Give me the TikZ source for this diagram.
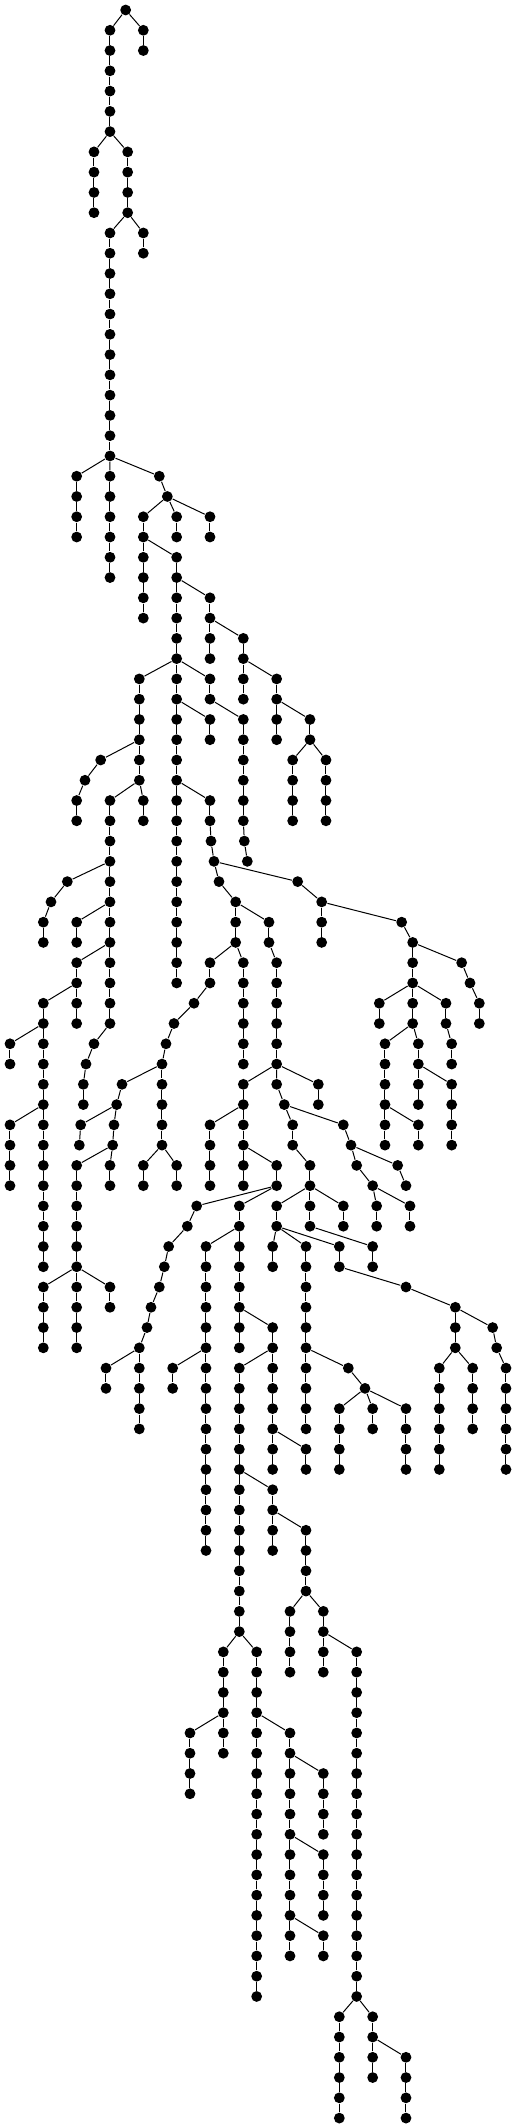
\documentclass[tikz,border=0pt]{standalone}
\usepackage{tikz}
% column, first level, last level
\newcommand\vchain[3]{%
  \foreach \l in {#2,...,#3}{\node[dot] (n\l-#1) at (#1,\l) {};}
  \foreach \l [remember=\l as \p (initially #2)] in {#2,...,#3}{\ifnum\l>#2 \draw (n\p-#1) -- (n\l-#1);\fi}}
\newcommand\dotat[2]{\node[dot] (n#2-#1) at (#1,#2) {};}

\begin{document}
\begin{tikzpicture}[
		x=0.33333pt, y=-20.27pt, line width=1pt,
		dot/.style={circle,fill=black,inner sep=0pt,minimum size=10.8pt}
		]
		\path[use as bounding box] (0pt,10pt) rectangle (516pt,-2118pt);
		% top part
		\dotat{377}{0}
		\vchain{330}{1}{6}
		\vchain{430}{1}{2}
		\vchain{282}{7}{10}
		\vchain{383}{7}{10}
		\vchain{330}{11}{22}
		\vchain{430}{11}{12}
		\vchain{230}{23}{26}
		\vchain{330}{23}{28}
		\dotat{478}{23}
		\dotat{502}{24}
		\vchain{430}{25}{30}
		\vchain{530}{25}{26}
		\vchain{630}{25}{26}
		\vchain{530}{27}{48}
		\vchain{630}{29}{32}
		\vchain{730}{31}{34}
		\vchain{830}{33}{36}
		\vchain{418}{33}{38}
		\vchain{630}{33}{34}
		\vchain{630}{35}{36}
		\vchain{730}{35}{40}
		\dotat{733}{41}
		\dotat{742}{42}
		\vchain{930}{35}{36}
		\vchain{878}{37}{40}
		\vchain{978}{37}{40}
		\dotat{302}{37}
		\dotat{255}{38}
		\vchain{230}{39}{40}
		\vchain{430}{39}{40}
		\vchain{330}{39}{50}
		\vchain{630}{39}{40}
		\dotat{633}{41}
		\dotat{642}{42}
		% middle part
		\dotat{202}{43}
		\dotat{153}{44}
		\vchain{130}{45}{46}
		\vchain{230}{45}{46}
		\vchain{230}{47}{50}
		\vchain{130}{49}{62}
		\vchain{30}{51}{52}
		\vchain{30}{55}{58}
		\dotat{282}{51}
		\dotat{258}{52}
		\vchain{250}{53}{54}
		\dotat{657}{43}
		\vchain{707}{44}{46}
		\vchain{807}{45}{46}
		\vchain{830}{47}{52}
		\vchain{630}{47}{48}
		\dotat{582}{49}
		\dotat{522}{50}
		\dotat{498}{51}
		\vchain{486}{52}{56}
		\vchain{730}{47}{52}
		\dotat{893}{43}
		\vchain{965}{44}{46}
		\dotat{1205}{45}
		\vchain{1238}{46}{50}
		\dotat{1385}{47}
		\dotat{1410}{48}
		\vchain{1438}{49}{50}
		\vchain{1138}{49}{50}
		\vchain{1338}{49}{50}
		\vchain{1355}{51}{52}
		\vchain{1155}{51}{56}
		\vchain{1255}{51}{54}
		\vchain{1355}{53}{56}
		\vchain{1255}{55}{56}
		\dotat{366}{53}
		\dotat{350}{54}
		\dotat{242}{55}
		\dotat{238}{56}
		\dotat{342}{55}
		\dotat{338}{56}
		\vchain{330}{57}{58}
		\vchain{230}{57}{66}
		\vchain{130}{63}{66}
		\vchain{330}{63}{64}
		\vchain{430}{57}{58}
		\vchain{530}{57}{58}
		\vchain{730}{53}{58}
		\vchain{630}{55}{58}
		\vchain{830}{57}{58}
		\vchain{955}{53}{54}
		\dotat{830}{53}
		\dotat{853}{54}
		\vchain{878}{55}{56}
		\vchain{930}{57}{60}
		\dotat{1030}{55}
		\dotat{1053}{56}
		\dotat{1070}{57}
		\dotat{1118}{58}
		\dotat{1193}{57}
		\dotat{1218}{58}
		\vchain{1130}{59}{60}
		\vchain{1230}{59}{60}
		\vchain{830}{59}{60}
		\vchain{1030}{59}{60}
		% lower part
		\dotat{590}{59}
		\dotat{562}{60}
		\dotat{506}{61}
		\dotat{493}{62}
		\dotat{478}{63}
		\dotat{453}{64}
		\dotat{441}{65}
		\vchain{418}{66}{70}
		\vchain{318}{67}{68}
		\vchain{718}{59}{66}
		\vchain{618}{61}{76}
		\vchain{518}{67}{68}
		\vchain{818}{65}{72}
		\vchain{718}{67}{80}
		\vchain{918}{71}{72}
		\vchain{818}{73}{76}
		\vchain{918}{75}{78}
		\vchain{870}{79}{82}
		\vchain{970}{79}{82}
		\vchain{1070}{81}{98}
		\vchain{1018}{99}{104}
		\vchain{1118}{99}{102}
		\vchain{1218}{101}{104}
		\vchain{670}{81}{86}
		\vchain{570}{85}{88}
		\vchain{770}{81}{98}
		\vchain{870}{85}{96}
		\vchain{970}{87}{90}
		\vchain{970}{91}{94}
		\vchain{970}{95}{96}
		\vchain{818}{61}{62}
		\vchain{918}{61}{70}
		\dotat{1045}{67}
		\dotat{1095}{68}
		\vchain{1018}{69}{72}
		\vchain{1118}{69}{70}
		\vchain{1218}{69}{72}
		\vchain{1018}{61}{62}
		\dotat{1218}{63}
		\vchain{1366}{64}{66}
		\dotat{1478}{65}
		\dotat{1490}{66}
		\vchain{1318}{67}{72}
		\vchain{1418}{67}{70}
		\vchain{1518}{67}{72}
		\vchain{1118}{61}{62}
		% branches
		\draw (n0-377) -- (n1-330) (n0-377) -- (n1-430);
		\draw (n6-330) -- (n7-282) (n6-330) -- (n7-383);
		\draw (n10-383) -- (n11-330) (n10-383) -- (n11-430);
		\draw (n22-330) -- (n23-230) (n22-330) -- (n23-330) (n22-330) -- (n23-478);
		\draw (n23-478) -- (n24-502);
		\draw (n24-502) -- (n25-430) (n24-502) -- (n25-530) (n24-502) -- (n25-630);
		\draw (n26-430) -- (n27-530);
		\draw (n28-530) -- (n29-630);
		\draw (n30-630) -- (n31-730);
		\draw (n32-530) -- (n33-418) (n32-530) -- (n33-630);
		\draw (n32-730) -- (n33-830);
		\draw (n34-530) -- (n35-630);
		\draw (n34-630) -- (n35-730);
		\draw (n34-830) -- (n35-930);
		\draw (n36-418) -- (n37-302) -- (n38-255) -- (n39-230);
		\draw (n36-930) -- (n37-878) (n36-930) -- (n37-978);
		\draw (n38-418) -- (n39-330) (n38-418) -- (n39-430);
		\draw (n38-530) -- (n39-630);
		\draw (n40-730) -- (n41-733) -- (n42-742);
		\draw (n40-630) -- (n41-633) -- (n42-642);
		\draw (n42-642) -- (n43-657) (n42-642) -- (n43-893);
		\draw (n42-330) -- (n43-202) -- (n44-153) -- (n45-130);
		\draw (n44-330) -- (n45-230);
		\draw (n46-330) -- (n47-230);
		\draw (n48-230) -- (n49-130);
		\draw (n50-130) -- (n51-30);
		\draw (n54-130) -- (n55-30);
		\draw (n50-330) -- (n51-282) -- (n52-258) -- (n53-250);
		\draw (n43-657) -- (n44-707);
		\draw (n44-707) -- (n45-807);
		\draw (n46-707) -- (n47-630) (n46-707) -- (n47-730);
		\draw (n46-807) -- (n47-830);
		\draw (n48-630) -- (n49-582) -- (n50-522) -- (n51-498) -- (n52-486);
		\draw (n43-893) -- (n44-965);
		\draw (n44-965) -- (n45-1205) -- (n46-1238);
		\draw (n46-1238) -- (n47-1385) -- (n48-1410) -- (n49-1438);
		\draw (n48-1238) -- (n49-1138) (n48-1238) -- (n49-1338);
		\draw (n50-1238) -- (n51-1155) (n50-1238) -- (n51-1255);
		\draw (n50-1338) -- (n51-1355);
		\draw (n52-1255) -- (n53-1355);
		\draw (n54-1155) -- (n55-1255);
		\draw (n52-486) -- (n53-366) -- (n54-350);
		\draw (n54-350) -- (n55-242) -- (n56-238);
		\draw (n54-350) -- (n55-342) -- (n56-338);
		\draw (n56-338) -- (n57-230) (n56-338) -- (n57-330);
		\draw (n62-230) -- (n63-130) (n62-230) -- (n63-330);
		\draw (n56-486) -- (n57-430) (n56-486) -- (n57-530);
		\draw (n52-830) -- (n53-730) (n52-830) -- (n53-830) (n52-830) -- (n53-955);
		\draw (n53-830) -- (n54-853);
		\draw (n54-853) -- (n55-878) (n54-853) -- (n55-1030);
		\draw (n56-878) -- (n57-930);
		\draw (n54-730) -- (n55-630);
		\draw (n56-730) -- (n57-830);
		\draw (n58-830) -- (n59-590) (n58-830) -- (n59-718);
		\draw (n58-930) -- (n59-830) (n58-930) -- (n59-1030);
		\draw (n55-1030) -- (n56-1053);
		\draw (n56-1053) -- (n57-1070) -- (n58-1118);
		\draw (n56-1053) -- (n57-1193) -- (n58-1218);
		\draw (n58-1118) -- (n59-1130) (n58-1118) -- (n59-1230);
		\draw (n60-830) -- (n61-818) (n60-830) -- (n61-918) (n60-830) -- (n61-1018);
		\draw (n60-930) -- (n61-1118);
		\draw (n59-590) -- (n60-562) -- (n61-506) -- (n62-493) -- (n63-478) -- (n64-453) -- (n65-441) -- (n66-418);
		\draw (n66-418) -- (n67-318);
		\draw (n60-718) -- (n61-618);
		\draw (n64-718) -- (n65-818);
		\draw (n66-618) -- (n67-518);
		\draw (n66-818) -- (n67-718);
		\draw (n70-818) -- (n71-918);
		\draw (n72-718) -- (n73-818);
		\draw (n74-818) -- (n75-918);
		\draw (n78-918) -- (n79-870) (n78-918) -- (n79-970);
		\draw (n80-970) -- (n81-1070);
		\draw (n98-1070) -- (n99-1018) (n98-1070) -- (n99-1118);
		\draw (n100-1118) -- (n101-1218);
		\draw (n80-718) -- (n81-670) (n80-718) -- (n81-770);
		\draw (n84-670) -- (n85-570);
		\draw (n84-770) -- (n85-870);
		\draw (n86-870) -- (n87-970);
		\draw (n90-870) -- (n91-970);
		\draw (n94-870) -- (n95-970);
		\draw (n66-918) -- (n67-1045) -- (n68-1095);
		\draw (n68-1095) -- (n69-1018) (n68-1095) -- (n69-1118) (n68-1095) -- (n69-1218);
		\draw (n62-1018) -- (n63-1218) -- (n64-1366);
		\draw (n64-1366) -- (n65-1478) -- (n66-1490) -- (n67-1518);
		\draw (n66-1366) -- (n67-1318) (n66-1366) -- (n67-1418);
	\end{tikzpicture}
\end{document}
